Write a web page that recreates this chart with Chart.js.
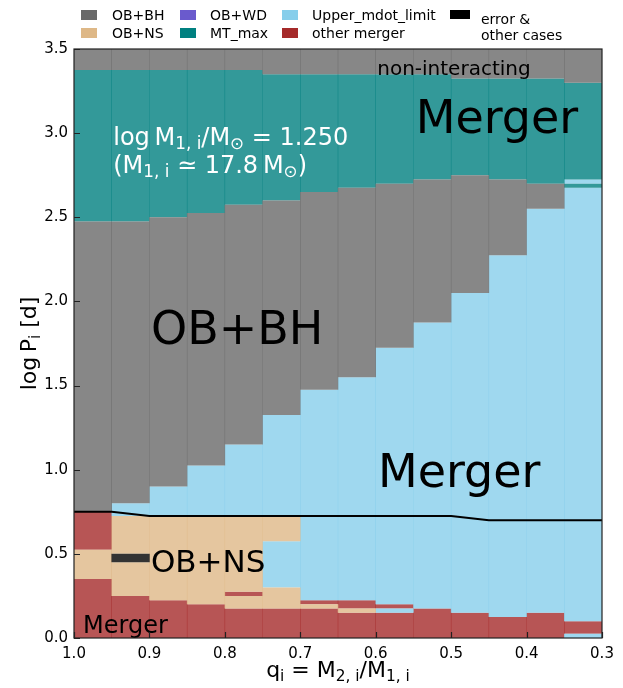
<!DOCTYPE html>
<html>
<head>
<meta charset="utf-8">
<script src="https://cdn.jsdelivr.net/npm/chart.js@4.4.1/dist/chart.umd.min.js"></script>
<style>
  html, body { margin: 0; padding: 0; background: #fff; }
  #wrap { width: 623px; height: 688px; }
</style>
</head>
<body>
<div id="wrap"><canvas id="grid" width="623" height="688"></canvas></div>
<script>
// column centres in q (width 0.05)
const qCols = [0.975, 0.925, 0.875, 0.825, 0.775, 0.725, 0.675, 0.625, 0.575, 0.525, 0.475, 0.425, 0.375, 0.325];

// segments per outcome: [q, logP bottom, logP top]
const segOBBH = [
  [0.975, 0.75, 2.475], [0.975, 3.375, 3.5],
  [0.925, 0.80, 2.475], [0.925, 3.375, 3.5],
  [0.875, 0.90, 2.50], [0.875, 3.375, 3.5],
  [0.825, 1.025, 2.525], [0.825, 3.375, 3.5],
  [0.775, 1.15, 2.575], [0.775, 3.375, 3.5],
  [0.725, 1.325, 2.60], [0.725, 3.35, 3.5],
  [0.675, 1.475, 2.65], [0.675, 3.35, 3.5],
  [0.625, 1.55, 2.675], [0.625, 3.35, 3.5],
  [0.575, 1.725, 2.70], [0.575, 3.35, 3.5],
  [0.525, 1.875, 2.725], [0.525, 3.35, 3.5],
  [0.475, 2.05, 2.75], [0.475, 3.325, 3.5],
  [0.425, 2.275, 2.725], [0.425, 3.325, 3.5],
  [0.375, 2.55, 2.70], [0.375, 3.325, 3.5],
  [0.325, 3.30, 3.5]
];
const segOBNS = [
  [0.975, 0.35, 0.525],
  [0.925, 0.25, 0.45], [0.925, 0.50, 0.725],
  [0.875, 0.225, 0.725],
  [0.825, 0.20, 0.725],
  [0.775, 0.175, 0.25], [0.775, 0.275, 0.725],
  [0.725, 0.175, 0.30], [0.725, 0.575, 0.725],
  [0.675, 0.175, 0.20],
  [0.625, 0.15, 0.175]
];
const segOBWD = [];
const segMTmax = [
  [0.975, 2.475, 3.375], [0.925, 2.475, 3.375], [0.875, 2.50, 3.375],
  [0.825, 2.525, 3.375], [0.775, 2.575, 3.375], [0.725, 2.60, 3.35],
  [0.675, 2.65, 3.35], [0.625, 2.675, 3.35], [0.575, 2.70, 3.35],
  [0.525, 2.725, 3.35], [0.475, 2.75, 3.325], [0.425, 2.725, 3.325],
  [0.375, 2.70, 3.325], [0.325, 2.675, 2.70], [0.325, 2.725, 3.30]
];
const segMdot = [
  [0.925, 0.725, 0.80], [0.875, 0.725, 0.90], [0.825, 0.725, 1.025],
  [0.775, 0.725, 1.15], [0.725, 0.30, 0.575], [0.725, 0.725, 1.325],
  [0.675, 0.225, 1.475], [0.625, 0.225, 1.55],
  [0.575, 0.15, 0.175], [0.575, 0.20, 1.725],
  [0.525, 0.175, 1.875], [0.475, 0.15, 2.05], [0.425, 0.125, 2.275],
  [0.375, 0.15, 2.55],
  [0.325, 0.0, 0.025], [0.325, 0.10, 2.675], [0.325, 2.70, 2.725]
];
const segMerger = [
  [0.975, 0.0, 0.35], [0.975, 0.525, 0.75],
  [0.925, 0.0, 0.25], [0.875, 0.0, 0.225], [0.825, 0.0, 0.20],
  [0.775, 0.0, 0.175], [0.775, 0.25, 0.275],
  [0.725, 0.0, 0.175],
  [0.675, 0.0, 0.175], [0.675, 0.20, 0.225],
  [0.625, 0.0, 0.15], [0.625, 0.175, 0.225],
  [0.575, 0.0, 0.15], [0.575, 0.175, 0.20],
  [0.525, 0.0, 0.175], [0.475, 0.0, 0.15], [0.425, 0.0, 0.125],
  [0.375, 0.0, 0.15], [0.325, 0.025, 0.10]
];
const segError = [[0.925, 0.45, 0.50]];

// black boundary line
const lineQ = [1.0, 0.95, 0.9, 0.5, 0.45, 0.3];
const lineLogP = [0.75, 0.75, 0.725, 0.725, 0.70, 0.70];

const xTicks = [1.0, 0.9, 0.8, 0.7, 0.6, 0.5, 0.4, 0.3];
const yTicks = [0.0, 0.5, 1.0, 1.5, 2.0, 2.5, 3.0, 3.5];

const legendItems = [
  ['OB+BH', '#696969'], ['OB+NS', '#deb887'], ['OB+WD', '#6a5acd'],
  ['MT_max', '#008080'], ['Upper_mdot_limit', '#87ceeb'], ['other merger', '#a52a2a']
];

const FONT = '"DejaVu Sans", sans-serif';

function fill(rgb) { return 'rgba(' + rgb + ',0.8)'; }
function barSet(label, segs, rgb) {
  return {
    type: 'bar', label: label,
    data: segs.map(s => ({ x: s[0], y: [s[1], s[2]] })),
    backgroundColor: fill(rgb), borderWidth: 0,
    // tiny overlap so neighbouring columns leave a faint seam instead of a gap
    grouped: false, barPercentage: 1.015, categoryPercentage: 1
  };
}

// text with simple subscripts: parts = [[text, isSub], ...]
function richWidth(ctx, parts, size) {
  let w = 0;
  parts.forEach(p => {
    ctx.font = (p[1] ? size * 0.7 : size) + 'px ' + FONT;
    w += ctx.measureText(p[0]).width;
  });
  return w;
}
function drawRich(ctx, parts, x, y, size, color) {
  ctx.fillStyle = color;
  ctx.textBaseline = 'alphabetic';
  ctx.textAlign = 'left';
  parts.forEach(p => {
    const sub = p[1];
    ctx.font = (sub ? size * 0.7 : size) + 'px ' + FONT;
    ctx.fillText(p[0], x, y + (sub ? size * 0.17 : 0));
    x += ctx.measureText(p[0]).width;
  });
}

const labelsPlot = [
  { t: 'non-interacting', q: 0.598, p: 3.345, size: 20, color: '#000' },
  { t: 'Merger', q: 0.547, p: 3.0, size: 46, color: '#000' },
  { t: 'OB+BH', q: 0.898, p: 1.747, size: 46, color: '#000' },
  { t: 'Merger', q: 0.597, p: 0.897, size: 46, color: '#000' },
  { t: 'OB+NS', q: 0.898, p: 0.392, size: 31, color: '#000' },
  { t: 'Merger', q: 0.988, p: 0.03, size: 24, color: '#000' }
];

const decor = {
  id: 'decor',
  afterDraw(chart) {
    const ctx = chart.ctx;
    const xs = chart.scales.x, ys = chart.scales.y;
    const a = chart.chartArea;
    ctx.save();
    labelsPlot.forEach(l => {
      ctx.font = l.size + 'px ' + FONT;
      ctx.fillStyle = l.color;
      ctx.textAlign = 'left';
      ctx.textBaseline = 'alphabetic';
      ctx.fillText(l.t, xs.getPixelForValue(l.q), ys.getPixelForValue(l.p));
    });
    // mass annotation
    const mx = xs.getPixelForValue(0.948);
    drawRich(ctx, [['log\u2009M', 0], ['1, i', 1], ['/M', 0], ['\u2299', 1], [' = 1.250', 0]],
      mx, ys.getPixelForValue(2.929), 24, '#fff');
    drawRich(ctx, [['(M', 0], ['1, i', 1], [' \u2243 17.8\u2009M', 0], ['\u2299', 1], [')', 0]],
      mx, ys.getPixelForValue(2.763), 24, '#fff');

    // frame
    ctx.strokeStyle = '#222';
    ctx.lineWidth = 1.2;
    ctx.strokeRect(a.left, a.top, a.right - a.left, a.bottom - a.top);
    // inward ticks
    ctx.beginPath();
    xTicks.forEach(v => {
      const px = Math.round(xs.getPixelForValue(v)) + 0.5;
      ctx.moveTo(px, a.bottom); ctx.lineTo(px, a.bottom - 6);
    });
    yTicks.forEach(v => {
      const py = Math.round(ys.getPixelForValue(v)) + 0.5;
      ctx.moveTo(a.left, py); ctx.lineTo(a.left + 6, py);
    });
    ctx.stroke();

    // axis titles
    const xParts = [['q', 0], ['i', 1], [' = M', 0], ['2, i', 1], ['/M', 0], ['1, i', 1]];
    const xw = richWidth(ctx, xParts, 22);
    drawRich(ctx, xParts, (a.left + a.right) / 2 - xw / 2, 677, 22, '#000');
    const yParts = [['log\u2009P', 0], ['i', 1], [' [d]', 0]];
    const yw = richWidth(ctx, yParts, 22);
    ctx.save();
    ctx.translate(36, (a.top + a.bottom) / 2);
    ctx.rotate(-Math.PI / 2);
    drawRich(ctx, yParts, -yw / 2, 0, 22, '#000');
    ctx.restore();

    // legend
    const cols = [[81, 112], [180, 210], [282, 312]];
    ctx.font = '14px ' + FONT;
    ctx.textBaseline = 'alphabetic';
    legendItems.forEach((it, i) => {
      const c = cols[Math.floor(i / 2)];
      const row = i % 2;
      ctx.fillStyle = it[1];
      ctx.fillRect(c[0], row ? 28 : 10, 16, 10);
      ctx.fillStyle = '#000';
      ctx.fillText(it[0], c[1], row ? 38 : 20);
    });
    ctx.fillStyle = '#000';
    ctx.fillRect(450, 10, 20, 9);
    ctx.fillText('error &', 481, 24);
    ctx.fillText('other cases', 481, 40);
    ctx.restore();
  }
};

const tickFont = { family: FONT, size: 15 };

new Chart(document.getElementById('grid'), {
  type: 'bar',
  data: {
    datasets: [
      {
        type: 'line', label: 'boundary',
        data: lineQ.map((q, i) => ({ x: q, y: lineLogP[i] })),
        borderColor: '#000', borderWidth: 2, pointRadius: 0, tension: 0, fill: false
      },
      barSet('error & other cases', segError, '0,0,0'),
      barSet('OB+BH', segOBBH, '105,105,105'),
      barSet('OB+NS', segOBNS, '222,184,135'),
      barSet('OB+WD', segOBWD, '106,90,205'),
      barSet('MT_max', segMTmax, '0,128,128'),
      barSet('Upper_mdot_limit', segMdot, '135,206,235'),
      barSet('other merger', segMerger, '165,42,42')
    ]
  },
  options: {
    responsive: false,
    animation: false,
    events: [],
    layout: { padding: { top: 49, right: 21, left: 0, bottom: 0 } },
    plugins: { legend: { display: false }, tooltip: { enabled: false } },
    scales: {
      x: {
        type: 'linear', reverse: true, min: 0.3, max: 1.0, offset: false,
        grid: { display: false, drawTicks: false, offset: false },
        border: { display: false },
        afterBuildTicks: s => { s.ticks = xTicks.map(v => ({ value: v })); },
        afterFit: s => { s.height = 50; s.paddingLeft = 0; s.paddingRight = 0; },
        ticks: { font: tickFont, color: '#000', padding: 7, maxRotation: 0, autoSkip: false,
                 callback: v => Number(v).toFixed(1) }
      },
      y: {
        type: 'linear', min: 0, max: 3.5,
        grid: { display: false, drawTicks: false },
        border: { display: false },
        afterBuildTicks: s => { s.ticks = yTicks.map(v => ({ value: v })); },
        afterFit: s => { s.width = 74; s.paddingTop = 0; s.paddingBottom = 0; },
        ticks: { font: tickFont, color: '#000', padding: 6, autoSkip: false,
                 callback: v => Number(v).toFixed(1) }
      }
    }
  },
  plugins: [decor]
});
</script>
</body>
</html>
